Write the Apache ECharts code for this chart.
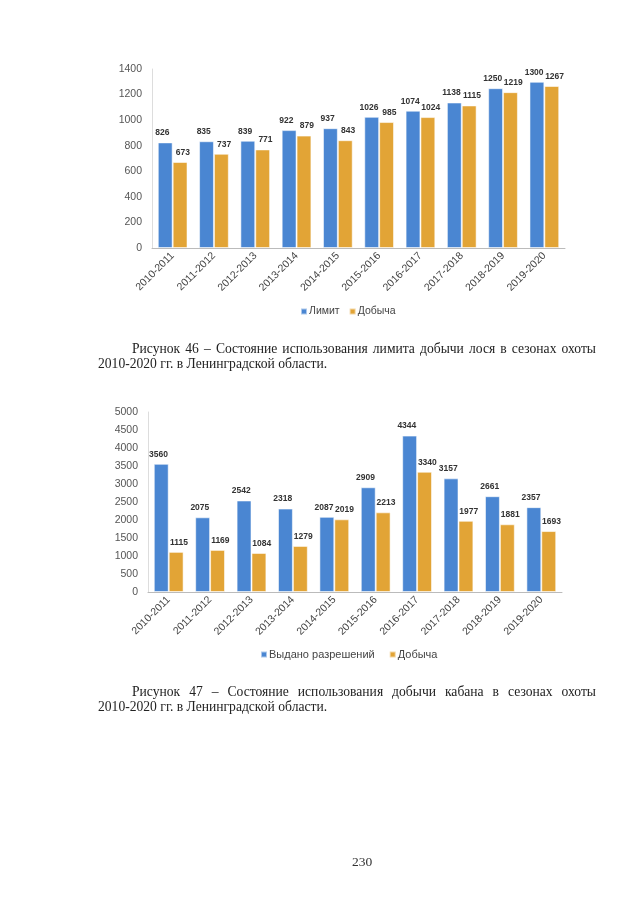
<!DOCTYPE html>
<html><head><meta charset="utf-8">
<script src="https://cdn.jsdelivr.net/npm/echarts@6/dist/echarts.min.js"></script>
<style>
html,body{margin:0;padding:0;background:#fff;}
#c{position:absolute;left:0;top:0;width:640px;height:905px;}
.ln{position:absolute;left:98px;width:498px;font-family:"Liberation Serif",serif;font-size:13.6px;line-height:15px;color:#222;white-space:nowrap;}
.j{text-align:justify;text-align-last:justify;left:132px;width:464px;}
.pg{position:absolute;left:352px;top:854px;font-family:"Liberation Serif",serif;font-size:13.5px;color:#333;}
</style></head><body>
<div id="c"></div>
<div class="ln j" style="top:341px">Рисунок 46 – Состояние использования лимита добычи лося в сезонах охоты</div>
<div class="ln" style="top:356px">2010-2020 гг. в Ленинградской области.</div>
<div class="ln j" style="top:684px">Рисунок 47 – Состояние использования добычи кабана в сезонах охоты</div>
<div class="ln" style="top:699px">2010-2020 гг. в Ленинградской области.</div>
<div class="pg">230</div>
<script>
const seasons = ["2010-2011","2011-2012","2012-2013","2013-2014","2014-2015","2015-2016","2016-2017","2017-2018","2018-2019","2019-2020"];
const mooseLimit = [826,835,839,922,937,1026,1074,1138,1250,1300];
const mooseHarvest = [673,737,771,879,843,985,1024,1115,1219,1267];
const boarPermits = [3560,2075,2542,2318,2087,2909,4344,3157,2661,2357];
const boarHarvest = [1115,1169,1084,1279,2019,2213,3340,1977,1881,1693];

const BLUE = '#4a86d2', ORANGE = '#e2a436';
const font = '"Liberation Sans", Arial, sans-serif';
const cv = document.createElement('canvas').getContext('2d');
cv.font = 'bold 20px monospace'; const wMono = cv.measureText('1250').width;
cv.font = 'bold 20px "Liberation Sans Narrow", monospace'; const wNar = cv.measureText('1250').width;
const hasNarrow = Math.abs(wMono - wNar) > 0.5;
const labFont = hasNarrow ? '"Liberation Sans Narrow", sans-serif' : font;
const labSize = hasNarrow ? 9.5 : 8.5;

const chart = echarts.init(document.getElementById('c'), null, {renderer:'canvas'});
function xAx(i){return {type:'category',gridIndex:i,data:seasons,
  axisTick:{show:false},axisLine:{lineStyle:{color:'#bbb'}},
  axisLabel:{rotate:45,fontSize:10.5,color:'#444',fontFamily:font,margin:6,interval:0}};}
function yAx(i,max,step){return {type:'value',gridIndex:i,min:0,max:max,interval:step,
  splitLine:{show:false},axisLine:{show:true,lineStyle:{color:'#ddd'}},axisTick:{show:false},
  axisLabel:{fontSize:10.5,color:'#555',fontFamily:font,margin:10,formatter:v=>String(v)}};}
function bar(name,data,color,i,dx){return {name:name,type:'bar',xAxisIndex:i,yAxisIndex:i,data:data,
  barWidth:'36%',barGap:'0%',
  itemStyle:{color:color,borderColor:'rgba(255,255,255,0.55)',borderWidth:1},
  label:{show:true,position:'top',offset:[dx,0],fontSize:labSize,fontWeight:'bold',color:'#333',fontFamily:labFont,distance:5}};}
chart.setOption({
  animation:false,
  grid:[{left:152,right:75,top:69,height:179},{left:148,right:78,top:412,height:180}],
  legend:[
    {data:['Лимит','Добыча'],left:300,top:306,itemWidth:6,itemHeight:6,icon:'rect',itemGap:9,
      textStyle:{fontSize:10.5,color:'#444',fontFamily:font,padding:[0,0,0,-3]},padding:0},
    {data:['Выдано разрешений','Добыча '],left:260,top:649,itemWidth:6,itemHeight:6,icon:'rect',itemGap:14,
      textStyle:{fontSize:11,color:'#444',fontFamily:font,padding:[0,0,0,-3]},padding:0}
  ],
  xAxis:[xAx(0),xAx(1)],
  yAxis:[yAx(0,1400,200),yAx(1,5000,500)],
  series:[
    bar('Лимит',mooseLimit,BLUE,0,-2.8),
    bar('Добыча',mooseHarvest,ORANGE,0,2.8),
    bar('Выдано разрешений',boarPermits,BLUE,1,-2.8),
    bar('Добыча ',boarHarvest,ORANGE,1,2.8)
  ]
});
</script>
</body></html>
